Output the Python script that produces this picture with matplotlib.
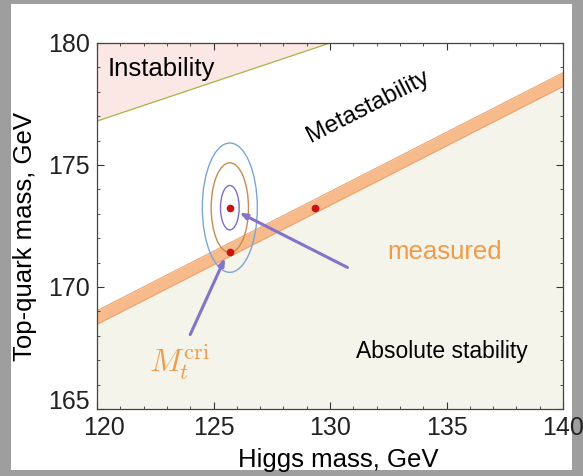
import numpy as np
import matplotlib
matplotlib.use('Agg')
import matplotlib.pyplot as plt
from matplotlib.patches import Ellipse, Rectangle
from matplotlib.transforms import ScaledTranslation

plt.rcParams['font.family'] = ['Liberation Sans', 'DejaVu Sans']
plt.rcParams['mathtext.fontset'] = 'cm'

# boundaries (Higgs mass, top mass) in GeV
instab_mh = [120.0, 130.0]
instab_mt = [176.8, 180.0]
stab_mh = [120.0, 140.0]
stab_mt = [168.75, 178.5]
band_half = 0.28

# measured point, critical point, and projected point on the band
meas = (125.7, 173.25)
crit = (125.7, 171.45)
proj = (129.35, 173.25)

# 1,2,3 sigma contour half-widths
sig_mh = [0.40, 0.80, 1.18]
sig_mt = [0.91, 1.84, 2.65]
sig_colors = ['#7a6fc4', '#c98a4e', '#7aa6d6']

x_ticks = [120, 125, 130, 135, 140]
y_ticks = [165, 170, 175, 180]

fig = plt.figure(figsize=(5.83, 4.76), dpi=100, facecolor='#9e9e9e')
fig.patches.append(Rectangle((11 / 583, 6 / 476), 561 / 583, 466 / 476,
                             transform=fig.transFigure, facecolor='white',
                             edgecolor='none', zorder=-10))
ax = fig.add_axes([0.1664, 0.1408, 0.7993, 0.7689])

x = np.linspace(120, 140, 200)
inst = instab_mt[0] + (x - instab_mh[0]) * (instab_mt[1] - instab_mt[0]) / (instab_mh[1] - instab_mh[0])
stab = stab_mt[0] + (x - stab_mh[0]) * (stab_mt[1] - stab_mt[0]) / (stab_mh[1] - stab_mh[0])

ax.fill_between(x, np.minimum(inst, 180), 180, color='#fbe7e4', lw=0)
ax.plot(x, inst, color='#a9b44a', lw=0.9)
ax.fill_between(x, 165, stab - band_half, color='#f4f4ea', lw=0)
ax.fill_between(x, stab - band_half, stab + band_half, color='#f7bb8b', lw=0)
ax.plot(x, stab - band_half, color='#eea472', lw=0.8)
ax.plot(x, stab + band_half, color='#eea472', lw=0.8)

for w, h, c in zip(sig_mh, sig_mt, sig_colors):
    ax.add_patch(Ellipse(meas, 2 * w, 2 * h, fill=False, edgecolor=c, lw=1.0, zorder=4))

for p in (meas, crit, proj):
    ax.plot(*p, 'o', color='#cc1111', ms=4.5, zorder=6)

arrow_kw = dict(arrowstyle='-|>,head_length=0.4,head_width=0.15', color='#8572c9', lw=2.2,
                shrinkA=0, shrinkB=2)
ax.annotate('', xy=(126.0, 173.1), xytext=(130.75, 170.8), arrowprops=arrow_kw, zorder=5)
ax.annotate('', xy=(125.55, 171.3), xytext=(124.0, 168.05), arrowprops=arrow_kw, zorder=5)

ax.text(120.47, 178.95, 'Instability', fontsize=18.5, va='center', ha='left')
ax.text(131.65, 177.4, 'Metastability', fontsize=17.5, va='center', ha='center', rotation=27)
ax.text(134.8, 167.35, 'Absolute stability', fontsize=16.5, va='center', ha='center')
ax.text(134.9, 171.45, 'measured', fontsize=18.5, color='#f09a4a', va='center', ha='center')
ax.text(123.55, 166.9, r'$M_t^{\rm cri}$', fontsize=23, color='#f09a4a', va='center', ha='center')

ax.set_xlim(120, 140)
ax.set_ylim(165, 180)
ax.set_xticks(x_ticks)
ax.set_yticks(y_ticks)
ax.set_xticks(np.arange(120, 141, 1), minor=True)
ax.set_yticks(np.arange(165, 181, 1), minor=True)
ax.tick_params(which='both', direction='in', top=True, right=True, colors='#333333',
               labelcolor='#222222')
ax.tick_params(which='major', length=5, labelsize=18, pad=5)
ax.tick_params(which='minor', length=2.5)
for s in ax.spines.values():
    s.set_color('#444444')
    s.set_linewidth(0.9)

# corner labels nudged apart like in the original figure
lab = ax.get_xticklabels()[0]
lab.set_transform(lab.get_transform() + ScaledTranslation(0.07, 0, fig.dpi_scale_trans))
lab = ax.get_yticklabels()[0]
lab.set_transform(lab.get_transform() + ScaledTranslation(0, 0.09, fig.dpi_scale_trans))

ax.set_xlabel('Higgs mass, GeV', fontsize=18.5)
ax.set_ylabel('Top-quark mass, GeV', fontsize=18.5)
ax.xaxis.set_label_coords(0.517, -0.106)
ax.yaxis.set_label_coords(-0.129, 0.471)

fig.savefig('out.png', dpi=100, facecolor=fig.get_facecolor())
